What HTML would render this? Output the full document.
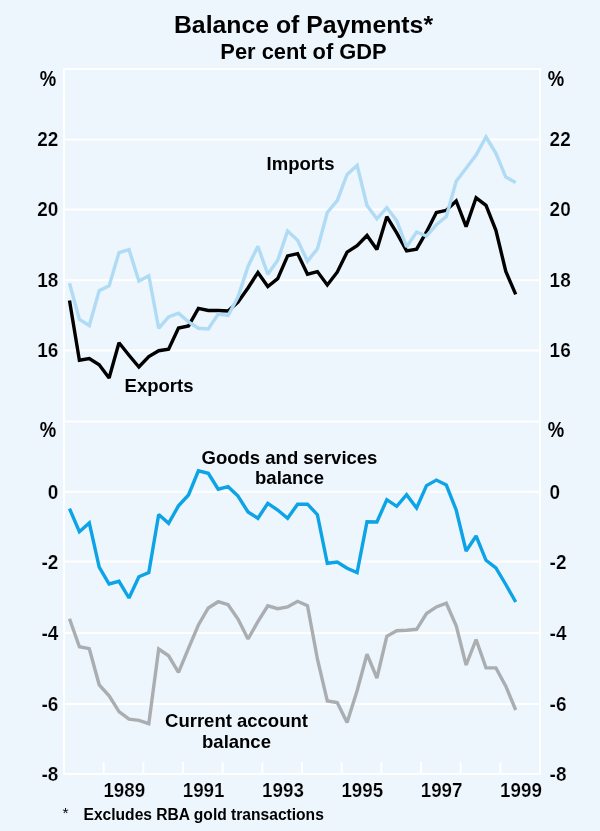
<!DOCTYPE html>
<html><head><meta charset="utf-8"><title>Balance of Payments</title>
<style>
html,body{margin:0;padding:0;background:#edf5fd;}
svg{display:block;will-change:transform;}
text{font-family:"Liberation Sans",sans-serif;font-weight:bold;fill:#000;}
.ax{stroke:#edf5fd;stroke-width:0.22;paint-order:normal;}
</style></head>
<body>
<svg width="600" height="831" viewBox="0 0 600 831">
<rect x="0" y="0" width="600" height="831" fill="#edf5fd"/>
<line x1="64" y1="69.00" x2="540" y2="69.00" stroke="#ffffff" stroke-width="2"/>
<line x1="64" y1="139.50" x2="540" y2="139.50" stroke="#ffffff" stroke-width="2"/>
<line x1="64" y1="209.50" x2="540" y2="209.50" stroke="#ffffff" stroke-width="2"/>
<line x1="64" y1="280.30" x2="540" y2="280.30" stroke="#ffffff" stroke-width="2"/>
<line x1="64" y1="350.40" x2="540" y2="350.40" stroke="#ffffff" stroke-width="2"/>
<line x1="64" y1="421.50" x2="540" y2="421.50" stroke="#ffffff" stroke-width="2"/>
<line x1="64" y1="491.70" x2="540" y2="491.70" stroke="#ffffff" stroke-width="2"/>
<line x1="64" y1="561.60" x2="540" y2="561.60" stroke="#ffffff" stroke-width="2"/>
<line x1="64" y1="632.90" x2="540" y2="632.90" stroke="#ffffff" stroke-width="2"/>
<line x1="64" y1="703.90" x2="540" y2="703.90" stroke="#ffffff" stroke-width="2"/>
<line x1="64" y1="774.00" x2="540" y2="774.00" stroke="#ffffff" stroke-width="2"/>
<line x1="64" y1="68" x2="64" y2="775" stroke="#ffffff" stroke-width="2"/>
<line x1="540" y1="68" x2="540" y2="775" stroke="#ffffff" stroke-width="2"/>
<line x1="103.67" y1="762" x2="103.67" y2="774" stroke="#ffffff" stroke-width="2"/>
<line x1="143.33" y1="762" x2="143.33" y2="774" stroke="#ffffff" stroke-width="2"/>
<line x1="183.00" y1="762" x2="183.00" y2="774" stroke="#ffffff" stroke-width="2"/>
<line x1="222.67" y1="762" x2="222.67" y2="774" stroke="#ffffff" stroke-width="2"/>
<line x1="262.33" y1="762" x2="262.33" y2="774" stroke="#ffffff" stroke-width="2"/>
<line x1="302.00" y1="762" x2="302.00" y2="774" stroke="#ffffff" stroke-width="2"/>
<line x1="341.67" y1="762" x2="341.67" y2="774" stroke="#ffffff" stroke-width="2"/>
<line x1="381.33" y1="762" x2="381.33" y2="774" stroke="#ffffff" stroke-width="2"/>
<line x1="421.00" y1="762" x2="421.00" y2="774" stroke="#ffffff" stroke-width="2"/>
<line x1="460.67" y1="762" x2="460.67" y2="774" stroke="#ffffff" stroke-width="2"/>
<line x1="500.33" y1="762" x2="500.33" y2="774" stroke="#ffffff" stroke-width="2"/>
<polyline points="69.5,300.5 79.4,360.2 89.3,358.6 99.2,364.8 109.1,378.0 119.0,342.8 129.0,355.2 138.9,367.0 148.8,356.5 158.7,350.7 168.6,349.3 178.5,328.0 188.5,325.9 198.4,308.4 208.3,310.5 218.2,310.5 228.1,311.0 238.0,302.0 248.0,288.0 257.9,272.5 267.8,286.5 277.7,278.6 287.6,255.9 297.6,253.6 307.5,274.2 317.4,271.6 327.3,285.0 337.2,272.2 347.1,252.1 357.1,245.6 367.0,235.5 376.9,249.5 386.8,216.7 396.7,232.9 406.6,250.9 416.6,249.1 426.5,231.9 436.4,212.5 446.3,210.3 456.2,201.0 466.1,226.6 476.1,197.8 486.0,205.4 495.9,230.3 505.8,271.4 515.7,294.3" fill="none" stroke="#000000" stroke-width="3.4" stroke-linejoin="miter" stroke-miterlimit="2"/>
<polyline points="69.5,283.3 79.4,319.4 89.3,325.5 99.2,290.6 109.1,285.9 119.0,252.6 129.0,249.6 138.9,281.0 148.8,275.8 158.7,328.3 168.6,317.0 178.5,313.1 188.5,321.9 198.4,328.3 208.3,329.0 218.2,314.0 228.1,315.5 238.0,297.0 248.0,266.5 257.9,246.3 267.8,274.2 277.7,260.3 287.6,231.0 297.6,240.2 307.5,261.2 317.4,248.9 327.3,212.5 337.2,200.6 347.1,174.4 357.1,165.4 367.0,205.5 376.9,218.9 386.8,207.6 396.7,220.7 406.6,246.9 416.6,232.0 426.5,236.0 436.4,224.8 446.3,216.5 456.2,181.2 466.1,168.3 476.1,155.0 486.0,137.0 495.9,153.3 505.8,177.1 515.7,182.4" fill="none" stroke="#b0dbf5" stroke-width="3.4" stroke-linejoin="miter" stroke-miterlimit="2"/>
<polyline points="69.5,618.7 79.4,646.7 89.3,648.7 99.2,684.8 109.1,695.8 119.0,711.7 129.0,719.2 138.9,720.3 148.8,723.7 158.7,649.0 168.6,655.8 178.5,672.4 188.5,648.3 198.4,625.0 208.3,608.0 218.2,601.7 228.1,604.7 238.0,619.0 248.0,639.0 257.9,621.7 267.8,605.8 277.7,608.7 287.6,607.0 297.6,601.3 307.5,605.8 317.4,659.0 327.3,701.0 337.2,702.5 347.1,722.5 357.1,690.8 367.0,654.2 376.9,678.0 386.8,636.3 396.7,630.8 406.6,630.3 416.6,629.3 426.5,613.5 436.4,606.9 446.3,603.2 456.2,625.7 466.1,665.0 476.1,639.5 486.0,667.9 495.9,667.9 505.8,686.2 515.7,710.0" fill="none" stroke="#aaaeb1" stroke-width="3.4" stroke-linejoin="miter" stroke-miterlimit="2"/>
<polyline points="69.5,508.7 79.4,531.7 89.3,523.0 99.2,567.0 109.1,584.0 119.0,581.3 129.0,598.0 138.9,576.7 148.8,572.5 158.7,514.5 168.6,523.3 178.5,505.8 188.5,495.0 198.4,470.8 208.3,473.3 218.2,489.2 228.1,486.7 238.0,496.0 248.0,512.0 257.9,518.3 267.8,503.3 277.7,510.0 287.6,518.3 297.6,504.2 307.5,504.2 317.4,514.7 327.3,563.3 337.2,562.0 347.1,568.3 357.1,572.5 367.0,521.7 376.9,522.0 386.8,499.7 396.7,506.3 406.6,494.7 416.6,508.0 426.5,485.6 436.4,480.1 446.3,485.0 456.2,510.0 466.1,551.0 476.1,536.0 486.0,560.3 495.9,568.0 505.8,584.5 515.7,602.0" fill="none" stroke="#0ca3e7" stroke-width="3.4" stroke-linejoin="miter" stroke-miterlimit="2"/>
<text x="303.5" y="32.5" font-size="24.8" text-anchor="middle">Balance of Payments*</text>
<text x="303.5" y="58.6" font-size="21.85" text-anchor="middle">Per cent of GDP</text>
<text transform="translate(39.8,86) scale(0.86,1)" font-size="21.5">%</text>
<text transform="translate(547.7,86) scale(0.86,1)" font-size="21.5">%</text>
<text transform="translate(58.4,146.4) scale(0.95,1)" class="ax" font-size="20" text-anchor="end">22</text>
<text transform="translate(549.6,146.4) scale(0.95,1)" class="ax" font-size="20">22</text>
<text transform="translate(58.4,216.4) scale(0.95,1)" class="ax" font-size="20" text-anchor="end">20</text>
<text transform="translate(549.6,216.4) scale(0.95,1)" class="ax" font-size="20">20</text>
<text transform="translate(58.4,287.2) scale(0.95,1)" class="ax" font-size="20" text-anchor="end">18</text>
<text transform="translate(549.6,287.2) scale(0.95,1)" class="ax" font-size="20">18</text>
<text transform="translate(58.4,357.3) scale(0.95,1)" class="ax" font-size="20" text-anchor="end">16</text>
<text transform="translate(549.6,357.3) scale(0.95,1)" class="ax" font-size="20">16</text>
<text transform="translate(39.8,436.7) scale(0.86,1)" font-size="21.5">%</text>
<text transform="translate(547.7,436.7) scale(0.86,1)" font-size="21.5">%</text>
<text transform="translate(58.4,498.6) scale(0.95,1)" class="ax" font-size="20" text-anchor="end">0</text>
<text transform="translate(549.6,498.6) scale(0.95,1)" class="ax" font-size="20">0</text>
<text transform="translate(58.4,568.5) scale(0.95,1)" class="ax" font-size="20" text-anchor="end">-2</text>
<text transform="translate(549.6,568.5) scale(0.95,1)" class="ax" font-size="20">-2</text>
<text transform="translate(58.4,639.8) scale(0.95,1)" class="ax" font-size="20" text-anchor="end">-4</text>
<text transform="translate(549.6,639.8) scale(0.95,1)" class="ax" font-size="20">-4</text>
<text transform="translate(58.4,710.8) scale(0.95,1)" class="ax" font-size="20" text-anchor="end">-6</text>
<text transform="translate(549.6,710.8) scale(0.95,1)" class="ax" font-size="20">-6</text>
<text transform="translate(58.4,780.9) scale(0.95,1)" class="ax" font-size="20" text-anchor="end">-8</text>
<text transform="translate(549.6,780.9) scale(0.95,1)" class="ax" font-size="20">-8</text>
<text transform="translate(124.3,797) scale(0.94,1)" class="ax" font-size="20" text-anchor="middle">1989</text>
<text transform="translate(203.6,797) scale(0.94,1)" class="ax" font-size="20" text-anchor="middle">1991</text>
<text transform="translate(283.0,797) scale(0.94,1)" class="ax" font-size="20" text-anchor="middle">1993</text>
<text transform="translate(362.3,797) scale(0.94,1)" class="ax" font-size="20" text-anchor="middle">1995</text>
<text transform="translate(441.6,797) scale(0.94,1)" class="ax" font-size="20" text-anchor="middle">1997</text>
<text transform="translate(521.0,797) scale(0.94,1)" class="ax" font-size="20" text-anchor="middle">1999</text>
<text x="300.5" y="169.7" font-size="18.5" text-anchor="middle">Imports</text>
<text x="159" y="391.7" font-size="18.5" text-anchor="middle">Exports</text>
<text x="289.5" y="463.7" font-size="18.5" text-anchor="middle">Goods and services</text>
<text x="289.5" y="483.7" font-size="18.5" text-anchor="middle">balance</text>
<text x="236.5" y="727" font-size="18.5" text-anchor="middle">Current account</text>
<text x="236.5" y="747.5" font-size="18.5" text-anchor="middle">balance</text>
<text x="62.6" y="818" font-size="15.5" style="font-weight:normal">*</text>
<text x="83.5" y="820" font-size="15.6" text-anchor="start">Excludes RBA gold transactions</text>
</svg>
</body></html>
